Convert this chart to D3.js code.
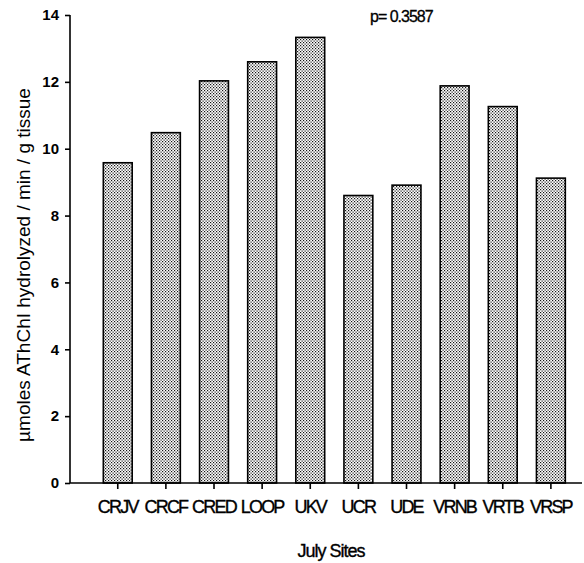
<!DOCTYPE html>
<html><head><meta charset="utf-8">
<script src="https://cdn.jsdelivr.net/npm/d3@7"></script>
<style>body{margin:0;background:#fff}svg{display:block}</style>
</head><body>
<svg id="c" width="584" height="563"></svg>
<script>
const categories = ["CRJV","CRCF","CRED","LOOP","UKV","UCR","UDE","VRNB","VRTB","VRSP"];
const values = [9.58, 10.48, 12.03, 12.60, 13.33, 8.60, 8.91, 11.88, 11.26, 9.12];
const yTicks = [0, 2, 4, 6, 8, 10, 12, 14];
const yLabel = "\u00b5moles AThChI hydrolyzed / min / g tissue";
const xLabel = "July Sites";
const pText = "p= 0.3587";

(function () {
const svg = d3.select("#c");
const mLeft = 70, mBottom = 483, mTop = 15;
const step = 47.2;
const y = d3.scaleLinear().domain([0, 14]).range([mBottom, mTop]);
const x0 = mLeft + step * 0.5 - step * 0.1;
const x = d3.scaleBand().domain(categories)
  .range([x0, x0 + step * 10.4])
  .paddingInner(0.4).paddingOuter(0.3);

const defs = svg.append("defs");
const pat = defs.append("pattern").attr("id", "dots").attr("patternUnits", "userSpaceOnUse")
  .attr("width", 3).attr("height", 3);
pat.append("rect").attr("width", 3).attr("height", 3).attr("fill", "#fff");
pat.append("rect").attr("x", 0).attr("y", 0).attr("width", 1.2).attr("height", 1.2).attr("fill", "#111");
pat.append("rect").attr("x", 1.5).attr("y", 1.5).attr("width", 1.2).attr("height", 1.2).attr("fill", "#111");

// bars
svg.append("g").selectAll("rect").data(categories).join("rect")
  .attr("x", d => x(d)).attr("width", x.bandwidth())
  .attr("y", (d, i) => y(values[i])).attr("height", (d, i) => mBottom - y(values[i]))
  .attr("fill", "url(#dots)").attr("stroke", "#000").attr("stroke-width", 1.6);

// y axis
const ya = svg.append("g").attr("transform", `translate(${mLeft},0)`)
  .call(d3.axisLeft(y).tickValues(yTicks).tickSize(5).tickPadding(6).tickFormat(d3.format("d")));
ya.select(".domain").attr("d", `M0,${mTop}V${mBottom}`).attr("stroke", "#000").attr("stroke-width", 1.6);
ya.selectAll(".tick line").attr("stroke", "#000").attr("stroke-width", 1.6);
ya.selectAll(".tick text").attr("font-family", "Liberation Sans, Arial, sans-serif")
  .attr("font-size", 15).attr("font-weight", "bold").attr("fill", "#000");

// x axis
const xa = svg.append("g").attr("transform", `translate(0,${mBottom})`)
  .call(d3.axisBottom(x).tickSize(6).tickPadding(11));
xa.select(".domain").attr("d", `M${mLeft},0H582`).attr("stroke", "#000").attr("stroke-width", 1.6);
xa.selectAll(".tick line").attr("stroke", "#000").attr("stroke-width", 1.6);
xa.selectAll(".tick text").attr("font-family", "Liberation Sans, Arial, sans-serif")
  .attr("font-size", 18).attr("letter-spacing", -1.8).attr("fill", "#000")
  .attr("stroke", "#000").attr("stroke-width", 0.35);

// axis titles
svg.append("text").attr("transform", "translate(30,265) rotate(-90)")
  .attr("text-anchor", "middle").attr("font-family", "Liberation Sans, Arial, sans-serif")
  .attr("font-size", 19).attr("fill", "#000").text(yLabel);
svg.append("text").attr("x", 331).attr("y", 557).attr("text-anchor", "middle")
  .attr("font-family", "Liberation Sans, Arial, sans-serif")
  .attr("font-size", 18).attr("letter-spacing", -1).attr("fill", "#000")
  .attr("stroke", "#000").attr("stroke-width", 0.35).text(xLabel);
svg.append("text").attr("x", 370).attr("y", 22)
  .attr("font-family", "Liberation Sans, Arial, sans-serif")
  .attr("font-size", 16).attr("letter-spacing", -1).attr("fill", "#000")
  .attr("stroke", "#000").attr("stroke-width", 0.3).text(pText);
})();
</script>
</body></html>
